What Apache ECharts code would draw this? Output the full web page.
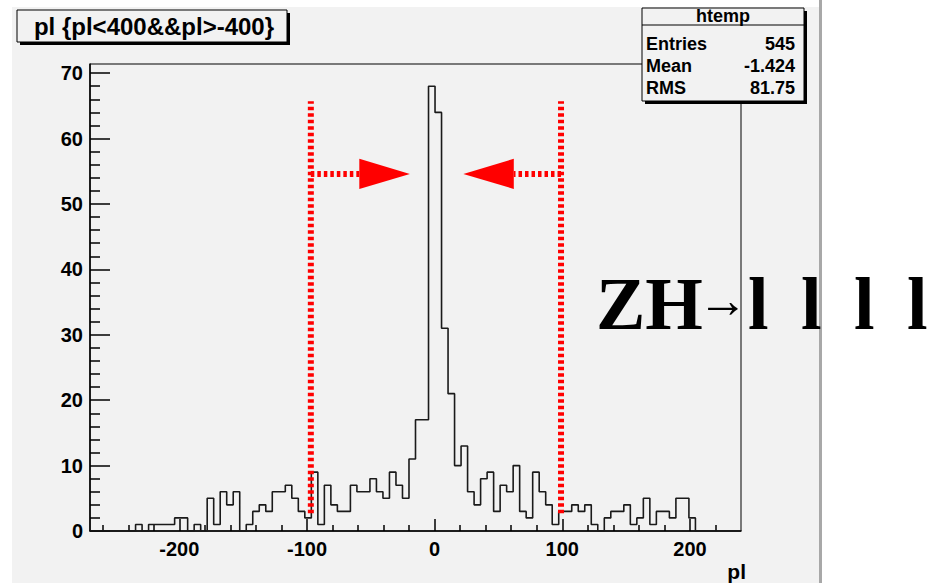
<!DOCTYPE html>
<html>
<head>
<meta charset="utf-8">
<script src="https://cdn.jsdelivr.net/npm/echarts@6/dist/echarts.min.js"></script>
<style>
  html, body { margin: 0; padding: 0; background: #fff; }
  #chart { width: 934px; height: 583px; }
</style>
</head>
<body>
<div id="chart"></div>
<script>
// htemp : 100 bins, -270 .. 240
const binStart = -270;
const binWidth = 5.1;
const counts = [
  0, 0, 0, 0, 0, 0, 0, 1, 0, 1,
  1, 1, 1, 2, 2, 0, 1, 0, 5, 1,
  6, 4, 6, 0, 1, 3, 4, 3, 6, 6,
  7, 5, 3, 2, 9, 1, 7, 4, 3, 3,
  7, 6, 6, 8, 6, 5, 9, 7, 5, 11,
  17, 17, 68, 64, 31, 21, 10, 13, 6, 4,
  8, 9, 3, 7, 6, 10, 3, 2, 9, 6,
  4, 1, 3, 3, 4, 3, 4, 1, 0, 2,
  3, 3, 4, 1, 2, 5, 1, 3, 3, 2,
  5, 5, 2, 0, 0, 0, 0, 0, 0, 0
];

const xMajorTicks = [-200, -100, 0, 100, 200];
const xMinorTicks = [-260, -240, -220, -180, -160, -140, -120, -80, -60, -40, -20,
                     20, 40, 60, 80, 120, 140, 160, 180, 220];
const yMajorTicks = [0, 10, 20, 30, 40, 50, 60, 70];
const yMinorTicks = [2, 4, 6, 8, 12, 14, 16, 18, 22, 24, 26, 28, 32, 34, 36, 38,
                     42, 44, 46, 48, 52, 54, 56, 58, 62, 64, 66, 68];

// cut lines at +-100 and the arrows pointing to the peak
const cutX = [-97, 99];
const cutY = [2.7, 65.7];
const arrowY = 54.6;
const arrowHalf = 2.3;   // half height of arrow head (y units)
const arrows = [
  { from: -97, base: -59, tip: -19.4 },
  { from: 99, base: 62, tip: 22.5 }
];

const statsRows = [['Entries', '545'], ['Mean', '-1.424'], ['RMS', '81.75']];
const titleText = 'pl {pl<400&&pl>-400}';
const xTitle = 'pl';
const ellX = [748, 801, 854, 907];   // the four "l" of ZH -> llll

const histData = counts.map((c, i) => [binStart + i * binWidth, c]);
histData.push([binStart + counts.length * binWidth, 0]);

const FONT = '"Liberation Sans", Arial, sans-serif';
const SERIF = '"Liberation Serif", serif';
const RED = '#ff0000';
const BG = '#f2f2f2';

const chart = echarts.init(document.getElementById('chart'), null, { renderer: 'svg' });

const xAxisBase = {
  type: 'value', min: -270, max: 240, position: 'bottom',
  splitLine: { show: false },
};
const yAxisBase = {
  type: 'value', min: 0, max: 71.4, position: 'left',
  splitLine: { show: false },
};

chart.setOption({
  animation: false,
  backgroundColor: '#fff',
  grid: {
    left: 90, right: 193, top: 64, bottom: 52,
    show: true, borderColor: '#000', borderWidth: 1, backgroundColor: 'transparent',
  },
  xAxis: [
    {
      ...xAxisBase,
      axisLine: { onZero: false, lineStyle: { color: '#000', width: 1.5 } },
      axisTick: { inside: true, length: 12, customValues: xMajorTicks, lineStyle: { color: '#000', width: 1.5 } },
      axisLabel: { customValues: xMajorTicks, color: '#000', fontFamily: FONT, fontWeight: 'bold', fontSize: 20, margin: 8 },
    },
    {
      ...xAxisBase,
      axisLine: { show: false, onZero: false },
      axisTick: { inside: true, length: 6, customValues: xMinorTicks, lineStyle: { color: '#000', width: 1.5 } },
      axisLabel: { show: false },
    },
  ],
  yAxis: [
    {
      ...yAxisBase,
      axisLine: { show: true, onZero: false, lineStyle: { color: '#000', width: 1.5 } },
      axisTick: { show: true, inside: true, length: 20, customValues: yMajorTicks, lineStyle: { color: '#000', width: 1.5 } },
      axisLabel: { customValues: yMajorTicks, color: '#000', fontFamily: FONT, fontWeight: 'bold', fontSize: 20, margin: 7 },
    },
    {
      ...yAxisBase,
      axisLine: { show: false, onZero: false },
      axisTick: { show: true, inside: true, length: 10, customValues: yMinorTicks, lineStyle: { color: '#000', width: 1.5 } },
      axisLabel: { show: false },
    },
  ],
  series: [
    {
      name: 'htemp',
      type: 'line',
      step: 'end',
      data: histData,
      showSymbol: false,
      lineStyle: { color: '#1a1a1a', width: 1.6 },
      z: 3,
    },
    // dotted cut lines
    ...cutX.map((x) => ({
      type: 'line',
      data: [[x, cutY[0]], [x, cutY[1]]],
      showSymbol: false,
      lineStyle: { color: RED, width: 6, type: [3.5, 3], cap: 'butt' },
      z: 4,
    })),
    // dotted arrow shafts
    ...arrows.map((a) => ({
      type: 'line',
      data: [[a.from, arrowY], [a.base, arrowY]],
      showSymbol: false,
      lineStyle: { color: RED, width: 6, type: [3.5, 3], cap: 'butt' },
      z: 4,
    })),
    // arrow heads
    {
      type: 'custom',
      encode: { x: [0, 1], y: 2 },
      data: arrows.map((a) => [a.base, a.tip, arrowY]),
      renderItem: (params, api) => {
        const base = api.value(0), tip = api.value(1), y = api.value(2);
        return {
          type: 'polygon',
          shape: { points: [api.coord([base, y + arrowHalf]), api.coord([base, y - arrowHalf]), api.coord([tip, y])] },
          style: { fill: RED },
        };
      },
      z: 5,
    },
  ],
  graphic: [
    // canvas
    { type: 'rect', shape: { x: 12, y: 7, width: 807, height: 576 }, style: { fill: BG }, z: -10, silent: true },
    { type: 'rect', shape: { x: 819, y: 0, width: 3, height: 583 }, style: { fill: '#a8a8a8' }, z: -10, silent: true },
    // title box
    { type: 'rect', shape: { x: 20, y: 13, width: 270, height: 32 }, style: { fill: '#000' }, z: 50 },
    { type: 'rect', shape: { x: 17, y: 10, width: 270, height: 32 }, style: { fill: BG, stroke: '#000', lineWidth: 1 }, z: 51 },
    { type: 'text', x: 154, y: 26, style: { text: titleText, fill: '#000', font: 'bold 24px ' + FONT, align: 'center', verticalAlign: 'middle' }, z: 52 },
    // stats box
    { type: 'rect', shape: { x: 645, y: 11, width: 162, height: 93 }, style: { fill: '#000' }, z: 50 },
    { type: 'rect', shape: { x: 642, y: 8, width: 162, height: 93 }, style: { fill: BG, stroke: '#000', lineWidth: 1 }, z: 51 },
    { type: 'line', shape: { x1: 642, y1: 25, x2: 804, y2: 25 }, style: { stroke: '#000', lineWidth: 1 }, z: 52 },
    { type: 'text', x: 723, y: 16, style: { text: 'htemp', fill: '#000', font: 'bold 18px ' + FONT, align: 'center', verticalAlign: 'middle' }, z: 52 },
    ...statsRows.flatMap((r, i) => [
      { type: 'text', x: 646, y: 44 + i * 22, style: { text: r[0], fill: '#000', font: 'bold 18px ' + FONT, align: 'left', verticalAlign: 'middle' }, z: 52 },
      { type: 'text', x: 795, y: 44 + i * 22, style: { text: r[1], fill: '#000', font: 'bold 18px ' + FONT, align: 'right', verticalAlign: 'middle' }, z: 52 },
    ]),
    // axis title
    { type: 'text', x: 746, y: 571, style: { text: xTitle, fill: '#000', font: 'bold 21px ' + FONT, align: 'right', verticalAlign: 'middle' }, z: 52 },
    // process label
    { type: 'text', x: 596, y: 304, style: { text: 'ZH', fill: '#000', font: 'bold 74px ' + SERIF, align: 'left', verticalAlign: 'middle' }, z: 52 },
    { type: 'text', x: 698, y: 300, style: { text: '→', fill: '#000', font: 'bold 50px ' + SERIF, align: 'left', verticalAlign: 'middle' }, z: 52 },
    ...ellX.map((x) => ({ type: 'text', x, y: 304, style: { text: 'l', fill: '#000', font: 'bold 74px ' + SERIF, align: 'left', verticalAlign: 'middle' }, z: 52 })),
  ],
});
</script>
</body>
</html>
